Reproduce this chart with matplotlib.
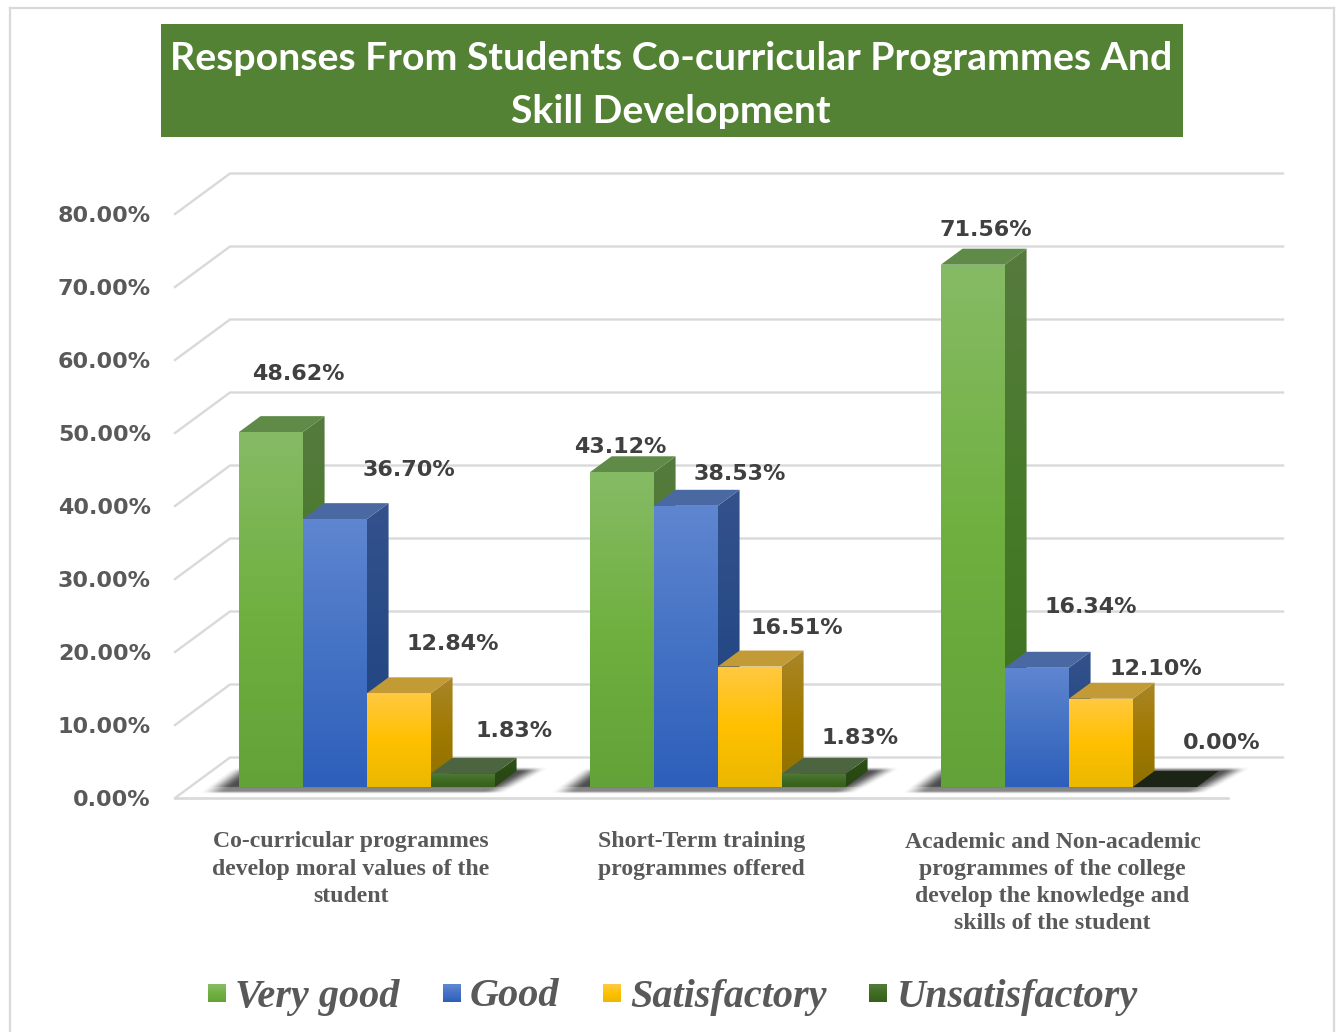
import numpy as np
import matplotlib
matplotlib.use("Agg")
import matplotlib.pyplot as plt
from matplotlib.colors import LinearSegmentedColormap
from matplotlib.lines import Line2D
from matplotlib.patches import Polygon, Rectangle
from matplotlib.legend_handler import HandlerBase

# ---------- data ----------
categories = [
    "Co-curricular programmes\ndevelop moral values of the\nstudent",
    "Short-Term training\nprogrammes offered",
    "Academic and Non-academic\nprogrammes of the college\ndevelop the knowledge and\nskills of the student",
]
series_names = ["Very good", "Good", "Satisfactory", "Unsatisfactory"]
very_good = [48.62, 43.12, 71.56]
good = [36.70, 38.53, 16.34]
satisfactory = [12.84, 16.51, 12.10]
unsatisfactory = [1.83, 1.83, 0.00]
series_values = [very_good, good, satisfactory, unsatisfactory]
y_ticks = [0, 10, 20, 30, 40, 50, 60, 70, 80]
title = "Responses From Students Co-curricular Programmes And\nSkill Development"

# ---------- style ----------
W, H = 1340, 1032
front_grad = [
    ["#86bb65", "#70b040", "#62a238"],
    ["#5f86d0", "#4472c4", "#2d5fbb"],
    ["#ffc941", "#ffc000", "#ebb800"],
    ["#4f7a3a", "#3f6b22", "#375f1a"],
]
side_grad = [
    ["#567a3e", "#467a28", "#3d6e1f"],
    ["#34528c", "#274a86", "#1f4383"],
    ["#a98629", "#a07a00", "#8f7000"],
    ["#2f5118", "#2a4a14", "#274511"],
]
top_colors = ["#5f8a48", "#4a69a3", "#c29a36", "#4c6540"]
zero_top = "#1c2415"
# pixel nudges of the data labels from the top centre of each bar
label_nudges = [
    [(27, -58), (74, -49), (54, -49), (51, -43)],
    [(-2, -25), (54, -32), (47, -39), (46, -36)],
    [(13, -35), (54, -61), (55, -30), (57, -44)],
]
plt.rcParams["font.family"] = ["DejaVu Sans"]


def px(x, y):
    return x / W, 1 - y / H


fig = plt.figure(figsize=(W / 100, H / 100), dpi=100, facecolor="white")

# frame of the picture
for (x0, y0, x1, y1) in [(10, 8, 1334, 8), (10, 8, 10, 1032), (1334, 8, 1334, 1032)]:
    a, b = px(x0, y0), px(x1, y1)
    fig.add_artist(Line2D([a[0], b[0]], [a[1], b[1]], color="#d9d9d9", lw=1.6))

# title banner
bl = px(161, 137)
fig.add_artist(Rectangle(bl, 1022 / W, 113 / H, transform=fig.transFigure,
                         facecolor="#548235", edgecolor="none"))
fig.text(671 / W, 1 - 85 / H, title, color="white", ha="center", va="center",
         family="Lato", weight="bold", fontsize=28.3, linespacing=1.59)

# front plane of the chart: y 0..80 and three category slots
ax = fig.add_axes([175 / W, 1 - 798 / H, 1053 / W, 584 / H])
ax.set_xlim(0, 3)
ax.set_ylim(0, 80)
ax.patch.set_visible(False)
for s in ax.spines.values():
    s.set_visible(False)
PX_X = 1053 / 3
PX_Y = 584 / 80
DEPTH_X, DEPTH_Y = 55 / PX_X, 40.5 / PX_Y
BAR_W = 64 / PX_X
BAR_SHIFT = 1.5 / PX_X
D0, D1 = 0.27, 0.665


def proj(x, y, d):
    return x + d * DEPTH_X, y + d * DEPTH_Y


def grad_poly(points, colors, z):
    pts = np.array(points)
    cmap = LinearSegmentedColormap.from_list("g", colors)
    extent = [pts[:, 0].min(), pts[:, 0].max(), pts[:, 1].min(), pts[:, 1].max()]
    im = ax.imshow(np.linspace(0, 1, 256).reshape(-1, 1), cmap=cmap, extent=extent,
                   aspect="auto", origin="upper", zorder=z, interpolation="bilinear")
    clip = Polygon(pts, closed=True, transform=ax.transData)
    im.set_clip_path(clip)
    im.set_clip_on(True)


def soft_shadow(x_left, x_right, z):
    """Blurred floor shadow under a bar group, worked out in pixels below the bar base."""
    base_x0, base_y = proj(x_left, 0, D0)
    base_x1, _ = proj(x_right, 0, D0)
    base_y_px = base_y * PX_Y           # height of the bar base over the front line, pixels
    rise = np.arange(-8, 26, 0.5)       # pixels above the bar base
    run_x0 = base_x0 * PX_X - 60
    run = np.arange(0, (base_x1 - base_x0) * PX_X + 140, 0.5)
    R, C = np.meshgrid(rise, run, indexing="ij")
    X = run_x0 + C                      # pixels in axes x
    left_edge = base_x0 * PX_X - 37 + (R + 3) * 27 / 20
    right_edge = base_x1 * PX_X + 16 + (R + 3) * 40 / 22
    fade = 26.0

    def smooth(t):
        t = np.clip(t, 0, 1)
        return t * t * (3 - 2 * t)

    alpha = smooth((X - left_edge) / fade) * smooth((right_edge - X) / fade)
    alpha = alpha * smooth((R + 7) / 3) * smooth((20 - R) / 5)
    level = np.where(R < 0, 0.56, 0.82)
    rgba = np.zeros(R.shape + (4,))
    rgba[..., :3] = 0.15
    rgba[..., 3] = alpha * level
    extent = [run_x0 / PX_X, (run_x0 + run[-1]) / PX_X,
              (base_y_px + rise[0]) / PX_Y, (base_y_px + rise[-1]) / PX_Y]
    ax.imshow(rgba, extent=extent, origin="lower", aspect="auto", zorder=z,
              interpolation="bilinear", clip_on=False)


# gridlines: left wall and back wall
for t in y_ticks:
    xs, ys = zip(proj(0, t, 0), proj(0, t, 1), proj(3, t, 1))
    ax.plot(xs, ys, color="#d9d9d9", lw=1.7, clip_on=False, zorder=1,
            solid_joinstyle="miter")
ax.plot([0, 3], [0, 0], color="#d9d9d9", lw=1.9, clip_on=False, zorder=1)

# bars
z = 10
for g in range(len(categories)):
    left = g + 0.5 - 2 * BAR_W + BAR_SHIFT
    soft_shadow(left, left + 4 * BAR_W, 2)

    for s, vals in enumerate(series_values):
        v = vals[g]
        x0 = left + s * BAR_W
        x1 = x0 + BAR_W
        if v > 0:
            grad_poly([proj(x1, 0, D0), proj(x1, 0, D1), proj(x1, v, D1), proj(x1, v, D0)],
                      side_grad[s], z)
            z += 1
        top = [proj(x0, v, D0), proj(x1, v, D0), proj(x1, v, D1), proj(x0, v, D1)]
        ax.add_patch(Polygon(top, closed=True, edgecolor="none", zorder=z,
                             facecolor=top_colors[s] if v > 0 else zero_top))
        z += 1
        if v > 0:
            grad_poly([proj(x0, 0, D0), proj(x1, 0, D0), proj(x1, v, D0), proj(x0, v, D0)],
                      front_grad[s], z)
            z += 1
        cx, cy = proj((x0 + x1) / 2, v, D0)
        nx, ny = label_nudges[g][s]
        ax.annotate(f"{v:.2f}%", xy=(cx, cy), xytext=(nx * 0.72, -ny * 0.72),
                    textcoords="offset points", ha="center", va="center",
                    fontsize=16, weight="bold", color="#404040", zorder=200,
                    annotation_clip=False)

# reset limits after imshow
ax.set_xlim(0, 3)
ax.set_ylim(0, 80)

# axis labels
ax.set_yticks(y_ticks)
ax.set_yticklabels([f"{t:.2f}%" for t in y_ticks], fontsize=16, weight="bold", color="#595959")
ax.set_xticks([0.5, 1.5, 2.5])
ax.set_xticklabels(categories, family="Liberation Serif", weight="bold", fontsize=17.15,
                   color="#595959", linespacing=1.39)
ax.tick_params(axis="both", length=0)
ax.tick_params(axis="y", pad=24 * 0.72)
ax.tick_params(axis="x", pad=33.5 * 0.72)


# legend with gradient swatches
class GradHandler(HandlerBase):
    def __init__(self, colors):
        super().__init__()
        self.colors = colors

    def create_artists(self, legend, orig, xd, yd, width, height, fontsize, trans):
        cmap = LinearSegmentedColormap.from_list("g", self.colors)
        n = 16
        box = width
        lift = 2.0
        return [Rectangle((-xd, -yd + lift + box * i / n), width, box / n + 0.4,
                          facecolor=cmap(1 - i / (n - 1)), edgecolor="none", transform=trans)
                for i in range(n)]


handles = [Rectangle((0, 0), 1, 1) for _ in series_names]
leg = fig.legend(handles, series_names, ncol=4, loc="center", bbox_to_anchor=(673 / W, 1 - 997 / H),
                 frameon=False, handlelength=0.447, handleheight=0.6, handletextpad=0.23,
                 columnspacing=1.07,
                 prop={"family": "Liberation Serif", "weight": "bold", "style": "italic", "size": 29},
                 labelcolor="#595959",
                 handler_map={h: GradHandler(front_grad[i]) for i, h in enumerate(handles)})

fig.savefig("out.png", dpi=100, facecolor="white")
